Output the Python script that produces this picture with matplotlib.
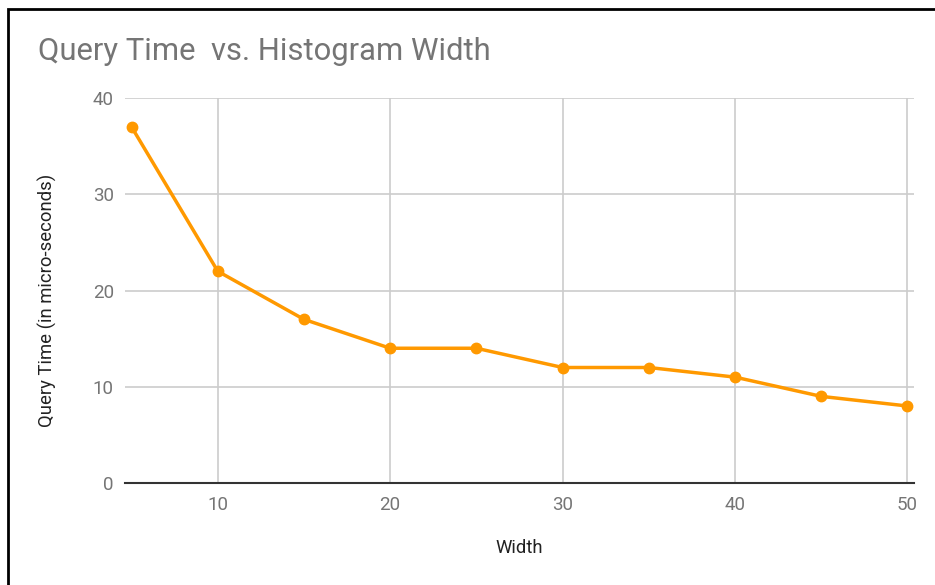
import matplotlib
matplotlib.use("Agg")
import matplotlib.pyplot as plt
from matplotlib.patches import Rectangle

# Query time measured for each histogram width
widths = [5, 10, 15, 20, 25, 30, 35, 40, 45, 50]
query_times = [37, 22, 17, 14, 14, 12, 12, 11, 9, 8]
x_ticks = [10, 20, 30, 40, 50]
y_ticks = [0, 10, 20, 30, 40]

plt.rcParams['font.family'] = ['Roboto', 'DejaVu Sans']

W, H = 935, 585
fig = plt.figure(figsize=(W / 100, H / 100), dpi=100)
ax = fig.add_axes([125 / W, 1 - 483 / H, (914 - 125) / W, (483 - 98) / H])

ax.plot(widths, query_times, color='#ff9900', linewidth=2.5,
        marker='o', markersize=7.5, zorder=3, clip_on=False)

ax.set_xlim(4.62, 50.38)
ax.set_ylim(0, 40)
ax.set_xticks(x_ticks)
ax.set_yticks(y_ticks)
ax.grid(True, color='#cccccc', linewidth=1.2)
ax.set_axisbelow(True)
for side in ['top', 'right', 'left']:
    ax.spines[side].set_visible(False)
ax.spines['bottom'].set_color('#333333')
ax.spines['bottom'].set_linewidth(1.5)
ax.spines['bottom'].set_zorder(4)
ax.tick_params(length=0, labelsize=13.5, labelcolor='#757575', pad=9)
ax.tick_params(axis='y', pad=8)

fig.text(38 / W, 1 - 52 / H, 'Query Time  vs. Histogram Width',
         fontsize=22.3, color='#757575', va='center', ha='left')
fig.text(47 / W, 1 - 300 / H, 'Query Time (in micro-seconds)',
         fontsize=13.3, color='#222222', rotation=90, va='center', ha='center')
fig.text(519 / W, 1 - 548 / H, 'Width',
         fontsize=13.3, color='#222222', va='center', ha='center')

# outer frame
fig.patches.append(Rectangle((8 / W, -0.1), 1.2, 1 - 9 / H + 0.1,
                             transform=fig.transFigure, fill=False,
                             edgecolor='black', linewidth=2))

fig.savefig('out.png', dpi=100)
